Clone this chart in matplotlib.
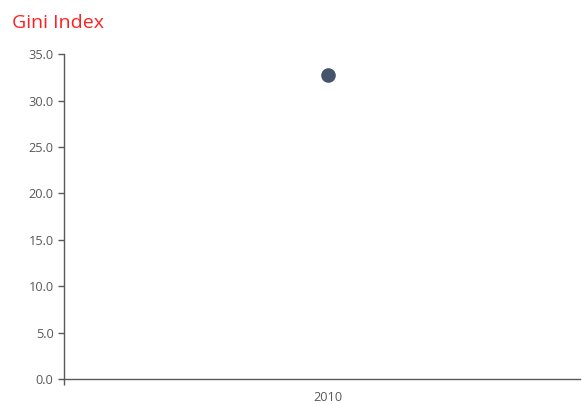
import matplotlib
matplotlib.use("Agg")
import matplotlib.pyplot as plt

categories = ["2010"]
values = [32.8]
yticks = [0, 5, 10, 15, 20, 25, 30, 35]

plt.rcParams['font.family'] = ['Open Sans', 'DejaVu Sans']

fig = plt.figure(figsize=(5.82, 4.04), dpi=100)
ax = fig.add_axes([0.110, 0.062, 0.886, 0.804])
x = list(range(len(categories)))
ax.plot(x, values, linestyle='none', marker='o', markersize=9.5, color='#44546a')
lo, hi = -0.512, len(categories) - 0.512
ax.set_xlim(lo, hi)
ax.set_ylim(0, 35)
ax.set_yticks(yticks)
ax.set_yticklabels([f"{v:.1f}" for v in yticks])
ax.set_xticks(x)
ax.set_xticklabels(categories)
ax.set_xticks([lo], minor=True)
for s in ['top', 'right']:
    ax.spines[s].set_visible(False)
for s in ['left', 'bottom']:
    ax.spines[s].set_color('#595959')
    ax.spines[s].set_linewidth(1.0)
ax.tick_params(axis='y', colors='#595959', labelcolor='#595959', labelsize=9.2, length=4, width=1)
ax.tick_params(axis='x', which='major', length=0, labelcolor='#595959', labelsize=9.2, pad=9)
ax.tick_params(axis='x', which='minor', length=4, width=1, color='#595959')
fig.text(0.02, 0.942, "Gini Index", color='#ff2020', fontsize=14, ha='left', va='center')
fig.savefig("out.png", dpi=100)
